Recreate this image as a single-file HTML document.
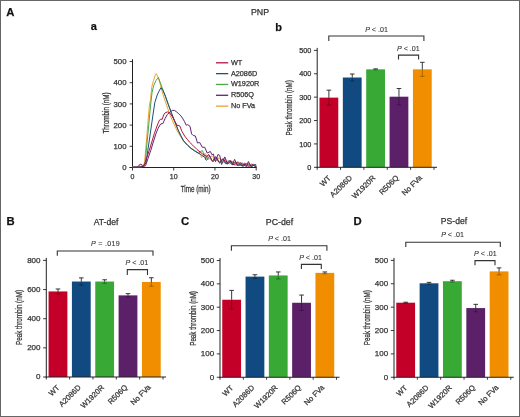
<!DOCTYPE html>
<html><head><meta charset="utf-8"><style>
html,body{margin:0;padding:0;background:#fff;width:520px;height:417px;overflow:hidden}
svg{display:block;will-change:transform}
text{stroke:#333;stroke-width:0.25px;paint-order:stroke}
</style></head><body>
<svg width="520" height="417" viewBox="0 0 520 417" font-family='"Liberation Sans", sans-serif'>
<rect x="0" y="0" width="520" height="417" fill="#fff"/>
<rect x="0.5" y="0.5" width="519" height="416" fill="none" stroke="#666" stroke-width="1"/>
<text x="6.30" y="15.60" font-size="11.3" text-anchor="start" font-weight="bold" fill="#111" >A</text>
<text x="6.50" y="224.80" font-size="11.3" text-anchor="start" font-weight="bold" fill="#111" >B</text>
<text x="181.00" y="224.80" font-size="11.3" text-anchor="start" font-weight="bold" fill="#111" >C</text>
<text x="353.50" y="224.80" font-size="11.3" text-anchor="start" font-weight="bold" fill="#111" >D</text>
<text x="90.80" y="29.90" font-size="11" text-anchor="start" font-weight="bold" fill="#111" >a</text>
<text x="275.20" y="30.70" font-size="11" text-anchor="start" font-weight="bold" fill="#111" >b</text>
<text x="260.00" y="15.40" font-size="8.8" text-anchor="middle" font-weight="normal" fill="#333" >PNP</text>
<line x1="132.50" y1="59.20" x2="132.50" y2="168.00" stroke="#222" stroke-width="1"/>
<line x1="129.50" y1="167.50" x2="256.69" y2="167.50" stroke="#222" stroke-width="1"/>
<line x1="129.70" y1="167.50" x2="132.50" y2="167.50" stroke="#222" stroke-width="0.9"/>
<text x="126.50" y="170.20" font-size="7.8" text-anchor="end" font-weight="normal" fill="#333" >0</text>
<line x1="129.70" y1="146.30" x2="132.50" y2="146.30" stroke="#222" stroke-width="0.9"/>
<text x="126.50" y="149.00" font-size="7.8" text-anchor="end" font-weight="normal" fill="#333" >100</text>
<line x1="129.70" y1="125.10" x2="132.50" y2="125.10" stroke="#222" stroke-width="0.9"/>
<text x="126.50" y="127.80" font-size="7.8" text-anchor="end" font-weight="normal" fill="#333" >200</text>
<line x1="129.70" y1="103.90" x2="132.50" y2="103.90" stroke="#222" stroke-width="0.9"/>
<text x="126.50" y="106.60" font-size="7.8" text-anchor="end" font-weight="normal" fill="#333" >300</text>
<line x1="129.70" y1="82.70" x2="132.50" y2="82.70" stroke="#222" stroke-width="0.9"/>
<text x="126.50" y="85.40" font-size="7.8" text-anchor="end" font-weight="normal" fill="#333" >400</text>
<line x1="129.70" y1="61.50" x2="132.50" y2="61.50" stroke="#222" stroke-width="0.9"/>
<text x="126.50" y="64.20" font-size="7.8" text-anchor="end" font-weight="normal" fill="#333" >500</text>
<line x1="132.50" y1="167.50" x2="132.50" y2="170.50" stroke="#222" stroke-width="0.9"/>
<text x="132.50" y="179.30" font-size="7" text-anchor="middle" font-weight="normal" fill="#333" >0</text>
<line x1="173.73" y1="167.50" x2="173.73" y2="170.50" stroke="#222" stroke-width="0.9"/>
<text x="173.73" y="179.30" font-size="7" text-anchor="middle" font-weight="normal" fill="#333" >10</text>
<line x1="214.96" y1="167.50" x2="214.96" y2="170.50" stroke="#222" stroke-width="0.9"/>
<text x="214.96" y="179.30" font-size="7" text-anchor="middle" font-weight="normal" fill="#333" >20</text>
<line x1="256.19" y1="167.50" x2="256.19" y2="170.50" stroke="#222" stroke-width="0.9"/>
<text x="256.19" y="179.30" font-size="7" text-anchor="middle" font-weight="normal" fill="#333" >30</text>
<text x="0" y="0" font-size="8.6" text-anchor="middle" fill="#333" transform="translate(195.6 191.8) scale(0.735 1)">Time (min)</text>
<text x="0" y="0" font-size="8.5" text-anchor="middle" fill="#333" transform="translate(108.5 113.0) rotate(-90) scale(0.737 1)">Thrombin (nM)</text>
<polyline points="132.50,167.20 137.50,167.20 139.20,165.30 140.80,164.60 142.30,165.60 143.60,165.80 144.70,161.30 146.50,140.00 148.00,122.00 149.40,105.00 150.60,99.50 151.70,87.30 153.50,80.50 155.30,75.20 156.20,73.60 157.30,75.50 159.00,80.00 161.00,87.00 163.00,94.50 166.50,105.00 170.20,115.40 173.50,123.00 177.00,130.50 180.50,136.50 184.00,141.50 188.00,145.50 192.00,148.80 197.00,152.50 201.00,154.80 201.00,156.99 201.92,157.58 202.83,156.58 203.75,154.83 204.67,153.64 205.58,153.92 206.50,155.63 207.42,157.84 208.33,159.29 209.25,159.27 210.17,157.96 211.08,156.41 212.00,155.74 212.92,156.53 213.83,158.40 214.75,160.29 215.67,161.17 216.58,160.64 217.50,159.24 218.42,158.00 219.33,157.86 220.25,159.02 221.17,160.85 222.08,162.32 223.00,162.65 223.92,161.78 224.83,160.44 225.75,159.60 226.67,159.92 227.58,161.28 228.50,162.92 229.42,163.92 230.33,163.77 231.25,162.73 232.17,161.59 233.08,161.18 234.00,161.84 234.92,163.24 235.83,164.56 236.75,165.08 237.67,164.59 238.58,163.53 239.50,162.67 240.42,162.64 241.33,163.52 242.25,164.79 243.17,165.74 244.08,165.84 245.00,165.14 245.92,164.18 246.83,163.64 247.75,163.90 248.67,164.83 249.58,165.87 250.50,166.42 251.42,166.19 252.33,165.41 253.25,164.63 254.17,164.36 255.08,164.78 256.00,165.61" fill="none" stroke="#eda230" stroke-width="1.0" stroke-linejoin="round" stroke-linecap="round" stroke-opacity="1"/>
<polyline points="132.50,167.20 138.00,167.20 141.00,166.80 143.50,166.20 145.20,162.00 148.00,133.00 150.60,105.00 152.10,92.00 153.80,85.30 156.00,80.50 158.40,77.50 161.50,86.00 164.80,95.00 168.00,104.00 171.40,113.00 174.70,121.50 178.00,129.80 180.70,135.50 183.40,140.60 187.60,145.20 191.00,148.30 194.80,150.80 198.50,153.30 200.50,151.50 202.40,150.60 204.00,154.50 205.60,157.10 205.60,159.36 206.44,157.98 207.28,156.31 208.12,155.26 208.96,155.41 209.80,156.77 210.64,158.77 211.48,160.56 212.32,161.39 213.16,161.01 214.00,159.70 214.84,158.20 215.68,157.31 216.52,157.53 217.36,158.82 218.20,160.65 219.04,162.22 219.88,162.89 220.72,162.46 221.56,161.24 222.40,159.91 223.24,159.17 224.08,159.45 224.92,160.66 225.76,162.30 226.60,163.65 227.44,164.18 228.28,163.73 229.12,162.60 229.96,161.43 230.80,160.83 231.64,161.14 232.48,162.25 233.32,163.70 234.16,164.84 235.00,165.24 235.84,164.77 236.68,163.75 237.52,162.74 238.36,162.26 239.20,162.58 240.04,163.58 240.88,164.82 241.72,165.76 242.56,166.03 243.40,165.57 244.24,164.66 245.08,163.80 245.92,163.42 246.76,163.73 247.60,164.59 248.44,165.62 249.28,166.36 250.12,166.51 250.96,166.06 251.80,165.26 252.64,164.53 253.48,164.23 254.32,164.50 255.16,165.19 256.00,165.98" fill="none" stroke="#4aa84a" stroke-width="1.0" stroke-linejoin="round" stroke-linecap="round" stroke-opacity="1"/>
<polyline points="132.50,167.20 139.00,167.20 143.00,166.50 146.00,162.80 149.80,137.00 152.80,116.00 154.80,102.50 157.20,95.00 159.00,91.20 161.00,87.70 163.00,90.50 165.50,96.30 168.30,104.30 171.60,113.30 174.90,121.80 178.20,130.10 180.90,135.80 183.60,140.90 187.80,145.50 191.20,148.60 195.00,151.10 200.20,154.10 205.00,157.50 205.00,158.00 205.85,159.82 206.70,160.28 207.55,159.24 208.40,157.52 209.25,156.36 210.10,156.59 210.95,158.18 211.80,160.22 212.65,161.53 213.50,161.43 214.35,160.13 215.20,158.60 216.05,157.93 216.90,158.64 217.75,160.36 218.60,162.11 219.45,162.88 220.30,162.33 221.15,160.94 222.00,159.72 222.85,159.54 223.70,160.59 224.55,162.28 225.40,163.63 226.25,163.90 227.10,163.04 227.95,161.73 228.80,160.89 229.65,161.13 230.50,162.37 231.35,163.88 232.20,164.80 233.05,164.64 233.90,163.63 234.75,162.50 235.60,162.06 236.45,162.63 237.30,163.90 238.15,165.13 239.00,165.62 239.85,165.15 240.70,164.12 241.55,163.26 242.40,163.17 243.25,163.94 244.10,165.12 244.95,166.00 245.80,166.10 246.65,165.44 247.50,164.51 248.35,163.95 249.20,164.14 250.05,164.97 250.90,165.94 251.75,166.46 252.60,166.26 253.45,165.53 254.30,164.76 255.15,164.46 256.00,164.81" fill="none" stroke="#1d4f7c" stroke-width="1.0" stroke-linejoin="round" stroke-linecap="round" stroke-opacity="1"/>
<polyline points="132.50,167.20 137.00,167.20 139.00,165.20 140.80,164.20 142.50,165.30 144.20,165.40 146.50,158.50 149.30,150.30 151.80,142.00 154.30,133.60 156.30,128.00 158.20,123.00 159.50,120.00 160.80,119.20 162.20,119.30 163.60,115.00 165.10,112.80 167.60,111.90 169.50,112.60 172.20,116.50 175.00,121.50 177.00,125.20 179.70,125.80 181.90,131.20 184.60,136.00 187.30,139.30 189.40,142.00 192.70,145.20 197.00,149.50 202.40,153.80 206.70,156.50 206.70,156.87 207.52,155.34 208.34,154.53 209.16,154.93 209.99,156.43 210.81,158.40 211.63,159.98 212.45,160.51 213.27,159.86 214.09,158.49 214.92,157.19 215.74,156.69 216.56,157.33 217.38,158.86 218.20,160.63 219.02,161.87 219.85,162.08 220.67,161.29 221.49,159.99 222.31,158.94 223.13,158.72 223.95,159.52 224.78,161.02 225.60,162.55 226.42,163.46 227.24,163.41 228.06,162.53 228.88,161.36 229.71,160.55 230.53,160.57 231.35,161.47 232.17,162.86 232.99,164.13 233.81,164.73 234.64,164.48 235.46,163.58 236.28,162.57 237.10,162.00 237.92,162.21 238.75,163.13 239.57,164.36 240.39,165.35 241.21,165.68 242.03,165.29 242.85,164.43 243.68,163.59 244.50,163.23 245.32,163.56 246.14,164.44 246.96,165.46 247.78,166.18 248.60,166.28 249.43,165.80 250.25,165.01 251.07,164.35 251.89,164.16 252.71,164.54 253.53,165.30 254.36,166.08 255.18,166.52 256.00,166.43" fill="none" stroke="#b5143f" stroke-width="1.0" stroke-linejoin="round" stroke-linecap="round" stroke-opacity="1"/>
<polyline points="132.50,167.20 139.00,167.20 143.00,166.60 145.50,165.80 148.00,158.50 150.80,150.30 153.30,142.00 155.80,134.00 157.90,128.80 160.00,125.00 160.80,123.90 162.90,123.50 165.10,118.50 167.20,114.60 169.40,112.60 172.30,110.40 174.40,110.40 176.60,111.90 178.70,113.70 180.90,115.80 183.10,119.10 184.50,121.60 186.20,125.20 187.80,124.70 190.00,126.30 191.60,133.90 193.20,135.50 195.40,136.00 197.50,143.00 199.70,142.50 202.40,147.40 204.70,147.20 207.20,153.00 210.40,151.50 211.90,154.70 213.30,154.00 215.50,161.60 218.00,154.40 219.80,155.50 221.60,164.50 224.80,156.90 227.30,163.70 229.50,162.50 231.00,161.20 232.50,165.00 234.60,159.40 237.50,166.00 240.60,162.70 243.00,166.50 245.00,164.00 246.50,166.50 248.40,161.50 251.00,166.50 253.00,165.00 256.00,166.50" fill="none" stroke="#5e2574" stroke-width="1.0" stroke-linejoin="round" stroke-linecap="round" stroke-opacity="1"/>
<line x1="216.00" y1="62.80" x2="228.20" y2="62.80" stroke="#b5143f" stroke-width="1.3"/>
<text x="230.90" y="64.80" font-size="7.3" text-anchor="start" font-weight="normal" fill="#333" >WT</text>
<line x1="216.00" y1="73.63" x2="228.20" y2="73.63" stroke="#1d4f7c" stroke-width="1.3"/>
<text x="230.90" y="75.63" font-size="7.3" text-anchor="start" font-weight="normal" fill="#333" >A2086D</text>
<line x1="216.00" y1="84.46" x2="228.20" y2="84.46" stroke="#4aa84a" stroke-width="1.3"/>
<text x="230.90" y="86.46" font-size="7.3" text-anchor="start" font-weight="normal" fill="#333" >W1920R</text>
<line x1="216.00" y1="95.29" x2="228.20" y2="95.29" stroke="#5e2574" stroke-width="1.3"/>
<text x="230.90" y="97.29" font-size="7.3" text-anchor="start" font-weight="normal" fill="#333" >R506Q</text>
<line x1="216.00" y1="106.12" x2="228.20" y2="106.12" stroke="#eda230" stroke-width="1.3"/>
<text x="230.90" y="108.12" font-size="7.3" text-anchor="start" font-weight="normal" fill="#333" >No FVa</text>
<rect x="319.48" y="97.63" width="18.80" height="69.67" fill="#c30027"/>
<line x1="328.88" y1="90.15" x2="328.88" y2="97.63" stroke="#222" stroke-width="0.9"/>
<line x1="328.88" y1="97.63" x2="328.88" y2="105.11" stroke="#000" stroke-opacity="0.35" stroke-width="0.9"/>
<line x1="326.58" y1="90.15" x2="331.18" y2="90.15" stroke="#222" stroke-width="0.9"/>
<line x1="326.58" y1="105.11" x2="331.18" y2="105.11" stroke="#000" stroke-opacity="0.35" stroke-width="0.9"/>
<text x="331.38" y="178.60" font-size="7.6" text-anchor="end" fill="#333" transform="rotate(-45 331.38 178.60)">WT</text>
<rect x="342.84" y="77.52" width="18.80" height="89.78" fill="#114a80"/>
<line x1="352.24" y1="74.01" x2="352.24" y2="77.52" stroke="#222" stroke-width="0.9"/>
<line x1="352.24" y1="77.52" x2="352.24" y2="81.03" stroke="#000" stroke-opacity="0.35" stroke-width="0.9"/>
<line x1="349.94" y1="74.01" x2="354.54" y2="74.01" stroke="#222" stroke-width="0.9"/>
<line x1="349.94" y1="81.03" x2="354.54" y2="81.03" stroke="#000" stroke-opacity="0.35" stroke-width="0.9"/>
<text x="352.54" y="178.30" font-size="7.6" text-anchor="end" fill="#333" transform="rotate(-45 352.54 178.30)">A2086D</text>
<rect x="366.20" y="69.34" width="18.80" height="97.96" fill="#38a935"/>
<line x1="375.60" y1="68.87" x2="375.60" y2="69.34" stroke="#222" stroke-width="0.9"/>
<line x1="375.60" y1="69.34" x2="375.60" y2="69.81" stroke="#000" stroke-opacity="0.35" stroke-width="0.9"/>
<line x1="373.30" y1="68.87" x2="377.90" y2="68.87" stroke="#222" stroke-width="0.9"/>
<line x1="373.30" y1="69.81" x2="377.90" y2="69.81" stroke="#000" stroke-opacity="0.35" stroke-width="0.9"/>
<text x="375.90" y="178.30" font-size="7.6" text-anchor="end" fill="#333" transform="rotate(-45 375.90 178.30)">W1920R</text>
<rect x="389.56" y="96.69" width="18.80" height="70.61" fill="#5c2068"/>
<line x1="398.96" y1="88.51" x2="398.96" y2="96.69" stroke="#222" stroke-width="0.9"/>
<line x1="398.96" y1="96.69" x2="398.96" y2="104.88" stroke="#000" stroke-opacity="0.35" stroke-width="0.9"/>
<line x1="396.66" y1="88.51" x2="401.26" y2="88.51" stroke="#222" stroke-width="0.9"/>
<line x1="396.66" y1="104.88" x2="401.26" y2="104.88" stroke="#000" stroke-opacity="0.35" stroke-width="0.9"/>
<text x="399.26" y="178.30" font-size="7.6" text-anchor="end" fill="#333" transform="rotate(-45 399.26 178.30)">R506Q</text>
<rect x="412.92" y="69.34" width="18.80" height="97.96" fill="#f18e00"/>
<line x1="422.32" y1="62.32" x2="422.32" y2="69.34" stroke="#222" stroke-width="0.9"/>
<line x1="422.32" y1="69.34" x2="422.32" y2="76.35" stroke="#000" stroke-opacity="0.35" stroke-width="0.9"/>
<line x1="420.02" y1="62.32" x2="424.62" y2="62.32" stroke="#222" stroke-width="0.9"/>
<line x1="420.02" y1="76.35" x2="424.62" y2="76.35" stroke="#000" stroke-opacity="0.35" stroke-width="0.9"/>
<text x="422.62" y="178.30" font-size="7.6" text-anchor="end" fill="#333" transform="rotate(-45 422.62 178.30)">No FVa</text>
<line x1="317.20" y1="47.90" x2="317.20" y2="167.80" stroke="#222" stroke-width="1"/>
<line x1="316.70" y1="167.30" x2="437.00" y2="167.30" stroke="#222" stroke-width="1"/>
<line x1="317.20" y1="167.30" x2="317.20" y2="169.80" stroke="#222" stroke-width="0.9"/>
<line x1="340.56" y1="167.30" x2="340.56" y2="169.80" stroke="#222" stroke-width="0.9"/>
<line x1="363.92" y1="167.30" x2="363.92" y2="169.80" stroke="#222" stroke-width="0.9"/>
<line x1="387.28" y1="167.30" x2="387.28" y2="169.80" stroke="#222" stroke-width="0.9"/>
<line x1="410.64" y1="167.30" x2="410.64" y2="169.80" stroke="#222" stroke-width="0.9"/>
<line x1="434.00" y1="167.30" x2="434.00" y2="169.80" stroke="#222" stroke-width="0.9"/>
<line x1="314.00" y1="167.30" x2="317.20" y2="167.30" stroke="#222" stroke-width="0.9"/>
<text x="311.40" y="169.90" font-size="7.3" text-anchor="end" font-weight="normal" fill="#333" >0</text>
<line x1="314.00" y1="143.92" x2="317.20" y2="143.92" stroke="#222" stroke-width="0.9"/>
<text x="311.40" y="146.52" font-size="7.3" text-anchor="end" font-weight="normal" fill="#333" >100</text>
<line x1="314.00" y1="120.54" x2="317.20" y2="120.54" stroke="#222" stroke-width="0.9"/>
<text x="311.40" y="123.14" font-size="7.3" text-anchor="end" font-weight="normal" fill="#333" >200</text>
<line x1="314.00" y1="97.16" x2="317.20" y2="97.16" stroke="#222" stroke-width="0.9"/>
<text x="311.40" y="99.76" font-size="7.3" text-anchor="end" font-weight="normal" fill="#333" >300</text>
<line x1="314.00" y1="73.78" x2="317.20" y2="73.78" stroke="#222" stroke-width="0.9"/>
<text x="311.40" y="76.38" font-size="7.3" text-anchor="end" font-weight="normal" fill="#333" >400</text>
<line x1="314.00" y1="50.40" x2="317.20" y2="50.40" stroke="#222" stroke-width="0.9"/>
<text x="311.40" y="53.00" font-size="7.3" text-anchor="end" font-weight="normal" fill="#333" >500</text>
<text x="0" y="0" font-size="8.5" text-anchor="middle" fill="#333" transform="translate(292.00 107.80) rotate(-90) scale(0.745 1)">Peak thrombin (nM)</text>
<text x="376.50" y="31.80" font-size="7.1" text-anchor="middle" fill="#333" style="stroke-width:0.1px"><tspan font-style="italic">P</tspan> &lt; .01</text>
<polyline points="328.80,41.10 328.80,36.00 423.90,36.00 423.90,41.10" fill="none" stroke="#333" stroke-width="1.1"/>
<text x="408.40" y="50.60" font-size="7.1" text-anchor="middle" fill="#333" style="stroke-width:0.1px"><tspan font-style="italic">P</tspan> &lt; .01</text>
<polyline points="398.50,59.60 398.50,55.10 418.60,55.10 418.60,59.60" fill="none" stroke="#333" stroke-width="1.1"/>
<text x="106.00" y="224.80" font-size="8.6" text-anchor="middle" font-weight="normal" fill="#333" >AT-def</text>
<rect x="48.57" y="291.44" width="18.80" height="85.56" fill="#c30027"/>
<line x1="57.97" y1="288.97" x2="57.97" y2="291.44" stroke="#222" stroke-width="0.9"/>
<line x1="57.97" y1="291.44" x2="57.97" y2="293.92" stroke="#000" stroke-opacity="0.35" stroke-width="0.9"/>
<line x1="55.67" y1="288.97" x2="60.27" y2="288.97" stroke="#222" stroke-width="0.9"/>
<line x1="55.67" y1="293.92" x2="60.27" y2="293.92" stroke="#000" stroke-opacity="0.35" stroke-width="0.9"/>
<text x="60.17" y="388.10" font-size="7.6" text-anchor="end" fill="#333" transform="rotate(-45 60.17 388.10)">WT</text>
<rect x="71.91" y="281.53" width="18.80" height="95.47" fill="#114a80"/>
<line x1="81.31" y1="277.89" x2="81.31" y2="281.53" stroke="#222" stroke-width="0.9"/>
<line x1="81.31" y1="281.53" x2="81.31" y2="285.18" stroke="#000" stroke-opacity="0.35" stroke-width="0.9"/>
<line x1="79.01" y1="277.89" x2="83.61" y2="277.89" stroke="#222" stroke-width="0.9"/>
<line x1="79.01" y1="285.18" x2="83.61" y2="285.18" stroke="#000" stroke-opacity="0.35" stroke-width="0.9"/>
<text x="81.31" y="387.80" font-size="7.6" text-anchor="end" fill="#333" transform="rotate(-45 81.31 387.80)">A2086D</text>
<rect x="95.25" y="281.53" width="18.80" height="95.47" fill="#38a935"/>
<line x1="104.65" y1="279.78" x2="104.65" y2="281.53" stroke="#222" stroke-width="0.9"/>
<line x1="104.65" y1="281.53" x2="104.65" y2="283.28" stroke="#000" stroke-opacity="0.35" stroke-width="0.9"/>
<line x1="102.35" y1="279.78" x2="106.95" y2="279.78" stroke="#222" stroke-width="0.9"/>
<line x1="102.35" y1="283.28" x2="106.95" y2="283.28" stroke="#000" stroke-opacity="0.35" stroke-width="0.9"/>
<text x="104.65" y="387.80" font-size="7.6" text-anchor="end" fill="#333" transform="rotate(-45 104.65 387.80)">W1920R</text>
<rect x="118.59" y="295.38" width="18.80" height="81.62" fill="#5c2068"/>
<line x1="127.99" y1="293.63" x2="127.99" y2="295.38" stroke="#222" stroke-width="0.9"/>
<line x1="127.99" y1="295.38" x2="127.99" y2="297.13" stroke="#000" stroke-opacity="0.35" stroke-width="0.9"/>
<line x1="125.69" y1="293.63" x2="130.29" y2="293.63" stroke="#222" stroke-width="0.9"/>
<line x1="125.69" y1="297.13" x2="130.29" y2="297.13" stroke="#000" stroke-opacity="0.35" stroke-width="0.9"/>
<text x="127.99" y="387.80" font-size="7.6" text-anchor="end" fill="#333" transform="rotate(-45 127.99 387.80)">R506Q</text>
<rect x="141.93" y="281.97" width="18.80" height="95.03" fill="#f18e00"/>
<line x1="151.33" y1="277.74" x2="151.33" y2="281.97" stroke="#222" stroke-width="0.9"/>
<line x1="151.33" y1="281.97" x2="151.33" y2="286.20" stroke="#000" stroke-opacity="0.35" stroke-width="0.9"/>
<line x1="149.03" y1="277.74" x2="153.63" y2="277.74" stroke="#222" stroke-width="0.9"/>
<line x1="149.03" y1="286.20" x2="153.63" y2="286.20" stroke="#000" stroke-opacity="0.35" stroke-width="0.9"/>
<text x="151.33" y="387.80" font-size="7.6" text-anchor="end" fill="#333" transform="rotate(-45 151.33 387.80)">No FVa</text>
<line x1="46.30" y1="257.90" x2="46.30" y2="377.50" stroke="#222" stroke-width="1"/>
<line x1="45.80" y1="377.00" x2="166.00" y2="377.00" stroke="#222" stroke-width="1"/>
<line x1="46.30" y1="377.00" x2="46.30" y2="379.50" stroke="#222" stroke-width="0.9"/>
<line x1="69.64" y1="377.00" x2="69.64" y2="379.50" stroke="#222" stroke-width="0.9"/>
<line x1="92.98" y1="377.00" x2="92.98" y2="379.50" stroke="#222" stroke-width="0.9"/>
<line x1="116.32" y1="377.00" x2="116.32" y2="379.50" stroke="#222" stroke-width="0.9"/>
<line x1="139.66" y1="377.00" x2="139.66" y2="379.50" stroke="#222" stroke-width="0.9"/>
<line x1="163.00" y1="377.00" x2="163.00" y2="379.50" stroke="#222" stroke-width="0.9"/>
<line x1="43.10" y1="377.00" x2="46.30" y2="377.00" stroke="#222" stroke-width="0.9"/>
<text x="40.50" y="379.40" font-size="8" text-anchor="end" font-weight="normal" fill="#333" >0</text>
<line x1="43.10" y1="347.85" x2="46.30" y2="347.85" stroke="#222" stroke-width="0.9"/>
<text x="40.50" y="350.25" font-size="8" text-anchor="end" font-weight="normal" fill="#333" >200</text>
<line x1="43.10" y1="318.70" x2="46.30" y2="318.70" stroke="#222" stroke-width="0.9"/>
<text x="40.50" y="321.10" font-size="8" text-anchor="end" font-weight="normal" fill="#333" >400</text>
<line x1="43.10" y1="289.55" x2="46.30" y2="289.55" stroke="#222" stroke-width="0.9"/>
<text x="40.50" y="291.95" font-size="8" text-anchor="end" font-weight="normal" fill="#333" >600</text>
<line x1="43.10" y1="260.40" x2="46.30" y2="260.40" stroke="#222" stroke-width="0.9"/>
<text x="40.50" y="262.80" font-size="8" text-anchor="end" font-weight="normal" fill="#333" >800</text>
<text x="0" y="0" font-size="8.5" text-anchor="middle" fill="#333" transform="translate(21.50 317.50) rotate(-90) scale(0.738 1)">Peak thrombin (nM)</text>
<text x="105.30" y="246.20" font-size="7.1" text-anchor="middle" fill="#333" style="stroke-width:0.1px" textLength="28.6" lengthAdjust="spacing"><tspan font-style="italic">P</tspan> = .019</text>
<polyline points="57.30,255.80 57.30,251.00 153.00,251.00 153.00,255.80" fill="none" stroke="#333" stroke-width="1.1"/>
<text x="136.80" y="264.60" font-size="7.1" text-anchor="middle" fill="#333" style="stroke-width:0.1px"><tspan font-style="italic">P</tspan> &lt; .01</text>
<polyline points="127.30,275.10 127.30,269.60 147.50,269.60 147.50,275.10" fill="none" stroke="#333" stroke-width="1.1"/>
<text x="279.50" y="224.50" font-size="8.8" text-anchor="middle" font-weight="normal" fill="#333" >PC-def</text>
<rect x="222.25" y="299.73" width="18.80" height="77.52" fill="#c30027"/>
<line x1="231.65" y1="290.39" x2="231.65" y2="299.73" stroke="#222" stroke-width="0.9"/>
<line x1="231.65" y1="299.73" x2="231.65" y2="309.07" stroke="#000" stroke-opacity="0.35" stroke-width="0.9"/>
<line x1="229.35" y1="290.39" x2="233.95" y2="290.39" stroke="#222" stroke-width="0.9"/>
<line x1="229.35" y1="309.07" x2="233.95" y2="309.07" stroke="#000" stroke-opacity="0.35" stroke-width="0.9"/>
<text x="233.85" y="388.35" font-size="7.6" text-anchor="end" fill="#333" transform="rotate(-45 233.85 388.35)">WT</text>
<rect x="245.55" y="276.61" width="18.80" height="100.64" fill="#114a80"/>
<line x1="254.95" y1="274.74" x2="254.95" y2="276.61" stroke="#222" stroke-width="0.9"/>
<line x1="254.95" y1="276.61" x2="254.95" y2="278.48" stroke="#000" stroke-opacity="0.35" stroke-width="0.9"/>
<line x1="252.65" y1="274.74" x2="257.25" y2="274.74" stroke="#222" stroke-width="0.9"/>
<line x1="252.65" y1="278.48" x2="257.25" y2="278.48" stroke="#000" stroke-opacity="0.35" stroke-width="0.9"/>
<text x="254.95" y="388.05" font-size="7.6" text-anchor="end" fill="#333" transform="rotate(-45 254.95 388.05)">A2086D</text>
<rect x="268.85" y="275.44" width="18.80" height="101.81" fill="#38a935"/>
<line x1="278.25" y1="271.94" x2="278.25" y2="275.44" stroke="#222" stroke-width="0.9"/>
<line x1="278.25" y1="275.44" x2="278.25" y2="278.95" stroke="#000" stroke-opacity="0.35" stroke-width="0.9"/>
<line x1="275.95" y1="271.94" x2="280.55" y2="271.94" stroke="#222" stroke-width="0.9"/>
<line x1="275.95" y1="278.95" x2="280.55" y2="278.95" stroke="#000" stroke-opacity="0.35" stroke-width="0.9"/>
<text x="278.25" y="388.05" font-size="7.6" text-anchor="end" fill="#333" transform="rotate(-45 278.25 388.05)">W1920R</text>
<rect x="292.15" y="302.76" width="18.80" height="74.49" fill="#5c2068"/>
<line x1="301.55" y1="295.06" x2="301.55" y2="302.76" stroke="#222" stroke-width="0.9"/>
<line x1="301.55" y1="302.76" x2="301.55" y2="310.47" stroke="#000" stroke-opacity="0.35" stroke-width="0.9"/>
<line x1="299.25" y1="295.06" x2="303.85" y2="295.06" stroke="#222" stroke-width="0.9"/>
<line x1="299.25" y1="310.47" x2="303.85" y2="310.47" stroke="#000" stroke-opacity="0.35" stroke-width="0.9"/>
<text x="301.55" y="388.05" font-size="7.6" text-anchor="end" fill="#333" transform="rotate(-45 301.55 388.05)">R506Q</text>
<rect x="315.45" y="272.88" width="18.80" height="104.37" fill="#f18e00"/>
<line x1="324.85" y1="271.94" x2="324.85" y2="272.88" stroke="#222" stroke-width="0.9"/>
<line x1="324.85" y1="272.88" x2="324.85" y2="273.81" stroke="#000" stroke-opacity="0.35" stroke-width="0.9"/>
<line x1="322.55" y1="271.94" x2="327.15" y2="271.94" stroke="#222" stroke-width="0.9"/>
<line x1="322.55" y1="273.81" x2="327.15" y2="273.81" stroke="#000" stroke-opacity="0.35" stroke-width="0.9"/>
<text x="324.85" y="388.05" font-size="7.6" text-anchor="end" fill="#333" transform="rotate(-45 324.85 388.05)">No FVa</text>
<line x1="220.00" y1="258.00" x2="220.00" y2="377.75" stroke="#222" stroke-width="1"/>
<line x1="219.50" y1="377.25" x2="339.50" y2="377.25" stroke="#222" stroke-width="1"/>
<line x1="220.00" y1="377.25" x2="220.00" y2="379.75" stroke="#222" stroke-width="0.9"/>
<line x1="243.30" y1="377.25" x2="243.30" y2="379.75" stroke="#222" stroke-width="0.9"/>
<line x1="266.60" y1="377.25" x2="266.60" y2="379.75" stroke="#222" stroke-width="0.9"/>
<line x1="289.90" y1="377.25" x2="289.90" y2="379.75" stroke="#222" stroke-width="0.9"/>
<line x1="313.20" y1="377.25" x2="313.20" y2="379.75" stroke="#222" stroke-width="0.9"/>
<line x1="336.50" y1="377.25" x2="336.50" y2="379.75" stroke="#222" stroke-width="0.9"/>
<line x1="216.80" y1="377.25" x2="220.00" y2="377.25" stroke="#222" stroke-width="0.9"/>
<text x="214.20" y="379.65" font-size="8" text-anchor="end" font-weight="normal" fill="#333" >0</text>
<line x1="216.80" y1="353.90" x2="220.00" y2="353.90" stroke="#222" stroke-width="0.9"/>
<text x="214.20" y="356.30" font-size="8" text-anchor="end" font-weight="normal" fill="#333" >100</text>
<line x1="216.80" y1="330.55" x2="220.00" y2="330.55" stroke="#222" stroke-width="0.9"/>
<text x="214.20" y="332.95" font-size="8" text-anchor="end" font-weight="normal" fill="#333" >200</text>
<line x1="216.80" y1="307.20" x2="220.00" y2="307.20" stroke="#222" stroke-width="0.9"/>
<text x="214.20" y="309.60" font-size="8" text-anchor="end" font-weight="normal" fill="#333" >300</text>
<line x1="216.80" y1="283.85" x2="220.00" y2="283.85" stroke="#222" stroke-width="0.9"/>
<text x="214.20" y="286.25" font-size="8" text-anchor="end" font-weight="normal" fill="#333" >400</text>
<line x1="216.80" y1="260.50" x2="220.00" y2="260.50" stroke="#222" stroke-width="0.9"/>
<text x="214.20" y="262.90" font-size="8" text-anchor="end" font-weight="normal" fill="#333" >500</text>
<text x="0" y="0" font-size="8.5" text-anchor="middle" fill="#333" transform="translate(195.50 318.40) rotate(-90) scale(0.735 1)">Peak thrombin (nM)</text>
<text x="279.50" y="240.70" font-size="7.1" text-anchor="middle" fill="#333" style="stroke-width:0.1px"><tspan font-style="italic">P</tspan> &lt; .01</text>
<polyline points="231.40,250.80 231.40,245.80 326.90,245.80 326.90,250.80" fill="none" stroke="#333" stroke-width="1.1"/>
<text x="310.50" y="259.70" font-size="7.1" text-anchor="middle" fill="#333" style="stroke-width:0.1px"><tspan font-style="italic">P</tspan> &lt; .01</text>
<polyline points="301.40,269.10 301.40,264.40 321.30,264.40 321.30,269.10" fill="none" stroke="#333" stroke-width="1.1"/>
<text x="454.00" y="224.10" font-size="8.6" text-anchor="middle" font-weight="normal" fill="#333" >PS-def</text>
<rect x="396.28" y="302.70" width="18.80" height="74.55" fill="#c30027"/>
<line x1="405.68" y1="302.23" x2="405.68" y2="302.70" stroke="#222" stroke-width="0.9"/>
<line x1="405.68" y1="302.70" x2="405.68" y2="303.17" stroke="#000" stroke-opacity="0.35" stroke-width="0.9"/>
<line x1="403.38" y1="302.23" x2="407.98" y2="302.23" stroke="#222" stroke-width="0.9"/>
<line x1="403.38" y1="303.17" x2="407.98" y2="303.17" stroke="#000" stroke-opacity="0.35" stroke-width="0.9"/>
<text x="407.88" y="388.35" font-size="7.6" text-anchor="end" fill="#333" transform="rotate(-45 407.88 388.35)">WT</text>
<rect x="419.62" y="283.30" width="18.80" height="93.95" fill="#114a80"/>
<line x1="429.02" y1="282.37" x2="429.02" y2="283.30" stroke="#222" stroke-width="0.9"/>
<line x1="429.02" y1="283.30" x2="429.02" y2="284.24" stroke="#000" stroke-opacity="0.35" stroke-width="0.9"/>
<line x1="426.72" y1="282.37" x2="431.32" y2="282.37" stroke="#222" stroke-width="0.9"/>
<line x1="426.72" y1="284.24" x2="431.32" y2="284.24" stroke="#000" stroke-opacity="0.35" stroke-width="0.9"/>
<text x="429.02" y="388.05" font-size="7.6" text-anchor="end" fill="#333" transform="rotate(-45 429.02 388.05)">A2086D</text>
<rect x="442.98" y="281.20" width="18.80" height="96.05" fill="#38a935"/>
<line x1="452.38" y1="280.26" x2="452.38" y2="281.20" stroke="#222" stroke-width="0.9"/>
<line x1="452.38" y1="281.20" x2="452.38" y2="282.13" stroke="#000" stroke-opacity="0.35" stroke-width="0.9"/>
<line x1="450.07" y1="280.26" x2="454.68" y2="280.26" stroke="#222" stroke-width="0.9"/>
<line x1="450.07" y1="282.13" x2="454.68" y2="282.13" stroke="#000" stroke-opacity="0.35" stroke-width="0.9"/>
<text x="452.38" y="388.05" font-size="7.6" text-anchor="end" fill="#333" transform="rotate(-45 452.38 388.05)">W1920R</text>
<rect x="466.33" y="308.07" width="18.80" height="69.18" fill="#5c2068"/>
<line x1="475.73" y1="304.34" x2="475.73" y2="308.07" stroke="#222" stroke-width="0.9"/>
<line x1="475.73" y1="308.07" x2="475.73" y2="311.81" stroke="#000" stroke-opacity="0.35" stroke-width="0.9"/>
<line x1="473.43" y1="304.34" x2="478.03" y2="304.34" stroke="#222" stroke-width="0.9"/>
<line x1="473.43" y1="311.81" x2="478.03" y2="311.81" stroke="#000" stroke-opacity="0.35" stroke-width="0.9"/>
<text x="475.73" y="388.05" font-size="7.6" text-anchor="end" fill="#333" transform="rotate(-45 475.73 388.05)">R506Q</text>
<rect x="489.68" y="271.38" width="18.80" height="105.87" fill="#f18e00"/>
<line x1="499.07" y1="267.88" x2="499.07" y2="271.38" stroke="#222" stroke-width="0.9"/>
<line x1="499.07" y1="271.38" x2="499.07" y2="274.89" stroke="#000" stroke-opacity="0.35" stroke-width="0.9"/>
<line x1="496.77" y1="267.88" x2="501.38" y2="267.88" stroke="#222" stroke-width="0.9"/>
<line x1="496.77" y1="274.89" x2="501.38" y2="274.89" stroke="#000" stroke-opacity="0.35" stroke-width="0.9"/>
<text x="499.07" y="388.05" font-size="7.6" text-anchor="end" fill="#333" transform="rotate(-45 499.07 388.05)">No FVa</text>
<line x1="394.00" y1="257.90" x2="394.00" y2="377.75" stroke="#222" stroke-width="1"/>
<line x1="393.50" y1="377.25" x2="513.75" y2="377.25" stroke="#222" stroke-width="1"/>
<line x1="394.00" y1="377.25" x2="394.00" y2="379.75" stroke="#222" stroke-width="0.9"/>
<line x1="417.35" y1="377.25" x2="417.35" y2="379.75" stroke="#222" stroke-width="0.9"/>
<line x1="440.70" y1="377.25" x2="440.70" y2="379.75" stroke="#222" stroke-width="0.9"/>
<line x1="464.05" y1="377.25" x2="464.05" y2="379.75" stroke="#222" stroke-width="0.9"/>
<line x1="487.40" y1="377.25" x2="487.40" y2="379.75" stroke="#222" stroke-width="0.9"/>
<line x1="510.75" y1="377.25" x2="510.75" y2="379.75" stroke="#222" stroke-width="0.9"/>
<line x1="390.80" y1="377.25" x2="394.00" y2="377.25" stroke="#222" stroke-width="0.9"/>
<text x="388.20" y="379.65" font-size="8" text-anchor="end" font-weight="normal" fill="#333" >0</text>
<line x1="390.80" y1="353.88" x2="394.00" y2="353.88" stroke="#222" stroke-width="0.9"/>
<text x="388.20" y="356.28" font-size="8" text-anchor="end" font-weight="normal" fill="#333" >100</text>
<line x1="390.80" y1="330.51" x2="394.00" y2="330.51" stroke="#222" stroke-width="0.9"/>
<text x="388.20" y="332.91" font-size="8" text-anchor="end" font-weight="normal" fill="#333" >200</text>
<line x1="390.80" y1="307.14" x2="394.00" y2="307.14" stroke="#222" stroke-width="0.9"/>
<text x="388.20" y="309.54" font-size="8" text-anchor="end" font-weight="normal" fill="#333" >300</text>
<line x1="390.80" y1="283.77" x2="394.00" y2="283.77" stroke="#222" stroke-width="0.9"/>
<text x="388.20" y="286.17" font-size="8" text-anchor="end" font-weight="normal" fill="#333" >400</text>
<line x1="390.80" y1="260.40" x2="394.00" y2="260.40" stroke="#222" stroke-width="0.9"/>
<text x="388.20" y="262.80" font-size="8" text-anchor="end" font-weight="normal" fill="#333" >500</text>
<text x="0" y="0" font-size="8.5" text-anchor="middle" fill="#333" transform="translate(369.80 317.70) rotate(-90) scale(0.738 1)">Peak thrombin (nM)</text>
<text x="452.50" y="236.50" font-size="7.1" text-anchor="middle" fill="#333" style="stroke-width:0.1px"><tspan font-style="italic">P</tspan> &lt; .01</text>
<polyline points="405.80,247.00 405.80,242.20 500.30,242.20 500.30,247.00" fill="none" stroke="#333" stroke-width="1.1"/>
<text x="485.40" y="255.50" font-size="7.1" text-anchor="middle" fill="#333" style="stroke-width:0.1px"><tspan font-style="italic">P</tspan> &lt; .01</text>
<polyline points="475.00,265.20 475.00,260.60 495.00,260.60 495.00,265.20" fill="none" stroke="#333" stroke-width="1.1"/>
</svg>
</body></html>
